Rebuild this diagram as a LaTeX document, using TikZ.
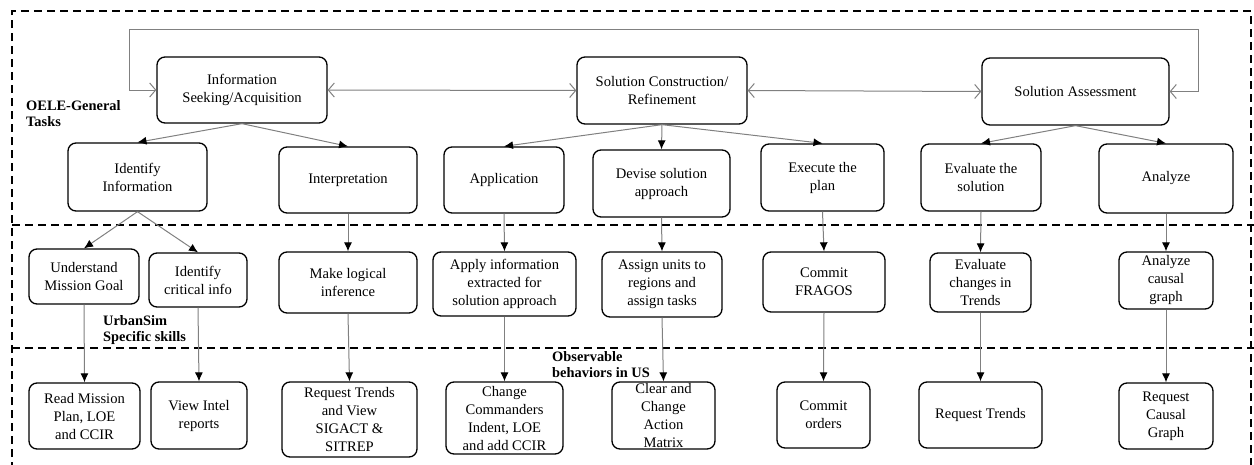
\documentclass[tikz,border=0pt]{standalone}
\usepackage{fontspec}
\setmainfont{Liberation Serif}
\usetikzlibrary{arrows.meta, calc}

\tikzset{
  task/.style={draw, rounded corners=8pt, line width=1.3pt, align=center, inner sep=1pt,
    font=\fontsize{14.6}{18}\selectfont},
  down/.style={draw=gray, line width=1pt, -{Latex[length=9pt,width=8pt,color=black]}},
  link/.style={draw=gray, line width=1pt,
    {Straight Barb[length=6pt,width=14pt]}-{Straight Barb[length=6pt,width=14pt]}},
  sep/.style={dash pattern=on 8pt off 5pt, line width=1.4pt},
  level/.style={font=\bfseries\fontsize{14.4}{16}\selectfont, align=left, inner sep=0pt, anchor=west}
}

\begin{document}
\begin{tikzpicture}[x=1pt, y=-1pt]
  \useasboundingbox (0,0) rectangle (1254,464);

  % frame and layers
  \draw[sep] (12,470) -- (12,11) -- (1251,11) -- (1251,470);
  \draw[sep] (12,225) -- (1254,225);
  \draw[sep] (12,348) -- (1254,348);

  \node[level] (oele) at (26,113.5) {OELE-General\\Tasks};
  \node[level] (urban) at (103,330) {UrbanSim\\Specific skills};
  \node[level] (observe) at (552,365) {Observable\\behaviors in US};

  % general tasks
  \node[task, minimum width=170pt, minimum height=66pt] (seek) at (242,90) {Information\\Seeking/Acquisition};
  \node[task, minimum width=170pt, minimum height=67pt] (build) at (662,90.5) {Solution Construction/\\Refinement};
  \node[task, minimum width=187pt, minimum height=67pt] (assess) at (1075.5,91.5) {Solution Assessment};

  \node[task, minimum width=139pt, minimum height=68pt] (identify) at (137.5,177) {Identify\\Information};
  \node[task, minimum width=138pt, minimum height=66pt] (interpret) at (348,180) {Interpretation};
  \node[task, minimum width=120pt, minimum height=66pt] (apply) at (504,180) {Application};
  \node[task, minimum width=137pt, minimum height=67pt] (devise) at (661.5,183.5) {Devise solution\\approach};
  \node[task, minimum width=123pt, minimum height=67pt] (execute) at (822.5,177.5) {Execute the\\plan};
  \node[task, minimum width=120pt, minimum height=67pt] (evaluate) at (981,177.5) {Evaluate the\\solution};
  \node[task, minimum width=134pt, minimum height=69pt] (analyze) at (1166,178.5) {Analyze};

  % urbansim skills
  \node[task, minimum width=110pt, minimum height=55pt] (goal) at (84,276.5) {Understand\\Mission Goal};
  \node[task, minimum width=98pt, minimum height=54pt] (critical) at (198,280) {Identify\\critical info};
  \node[task, minimum width=138pt, minimum height=61pt] (infer) at (348,282.5) {Make logical\\inference};
  \node[task, minimum width=143pt, minimum height=64pt] (extract) at (504.5,284) {Apply information\\extracted for\\solution approach};
  \node[task, minimum width=120pt, minimum height=65pt] (assign) at (662,284.5) {Assign units to\\regions and\\assign tasks};
  \node[task, minimum width=122pt, minimum height=60pt] (fragos) at (824,282) {Commit\\FRAGOS};
  \node[task, minimum width=101pt, minimum height=59pt] (changes) at (980.5,282.5) {Evaluate\\changes in\\Trends};
  \node[task, minimum width=94pt, minimum height=57pt] (causal) at (1166,280.5) {Analyze\\causal\\graph};

  % observable behaviors
  \node[task, minimum width=111pt, minimum height=66pt] (readplan) at (84.5,416) {Read Mission\\Plan, LOE\\and CCIR};
  \node[task, minimum width=96pt, minimum height=67pt] (intel) at (199,415.5) {View Intel\\reports};
  \node[task, minimum width=135pt, minimum height=75pt] (sigact) at (349.5,419.5) {Request Trends\\and View\\SIGACT \&\\SITREP};
  \node[task, minimum width=117pt, minimum height=72pt] (intent) at (504.5,418) {Change\\Commanders\\Indent, LOE\\and add CCIR};
  \node[task, minimum width=103pt, minimum height=67pt] (matrix) at (663.5,415.5) {Clear and\\Change\\Action\\Matrix};
  \node[task, minimum width=93pt, minimum height=66pt] (orders) at (823.5,415) {Commit\\orders};
  \node[task, minimum width=123pt, minimum height=66pt] (trends) at (980.5,415) {Request Trends};
  \node[task, minimum width=94pt, minimum height=66pt] (graph) at (1166,416) {Request\\Causal\\Graph};

  % cycle between general tasks
  \coordinate (loopR) at (1198,29);
  \coordinate (loopL) at (129,29);
  \draw[link] (seek.east) -- (build.west);
  \draw[link] (build.east) -- (assess.west);
  \draw[link] (assess.east) -| (loopR) -- (loopL) |- (seek.west);

  % task tree
  \draw[down] (seek.south) -- (identify.north);
  \draw[down] (seek.south) -- (interpret.north);
  \draw[down] (build.south) -- (apply.north);
  \draw[down] (build.south) -- (devise.north);
  \draw[down] (build.south) -- (execute.north);
  \draw[down] (assess.south) -- (evaluate.north);
  \draw[down] (assess.south) -- (analyze.north);

  \draw[down] (identify.south) -- (goal.north);
  \draw[down] (identify.south) -- (critical.north);
  \draw[down] (interpret.south) -- (infer.north);
  \draw[down] (apply.south) -- (extract.north);
  \draw[down] (devise.south) -- (assign.north);
  \draw[down] (execute.south) -- (fragos.north);
  \draw[down] (evaluate.south) -- (changes.north);
  \draw[down] (analyze.south) -- (causal.north);

  \draw[down] (goal.south) -- (readplan.north);
  \draw[down] (critical.south) -- (intel.north);
  \draw[down] (infer.south) -- (sigact.north);
  \draw[down] (extract.south) -- (intent.north);
  \draw[down] (assign.south) -- (matrix.north);
  \draw[down] (fragos.south) -- (orders.north);
  \draw[down] (changes.south) -- (trends.north);
  \draw[down] (causal.south) -- (graph.north);
\end{tikzpicture}
\end{document}
